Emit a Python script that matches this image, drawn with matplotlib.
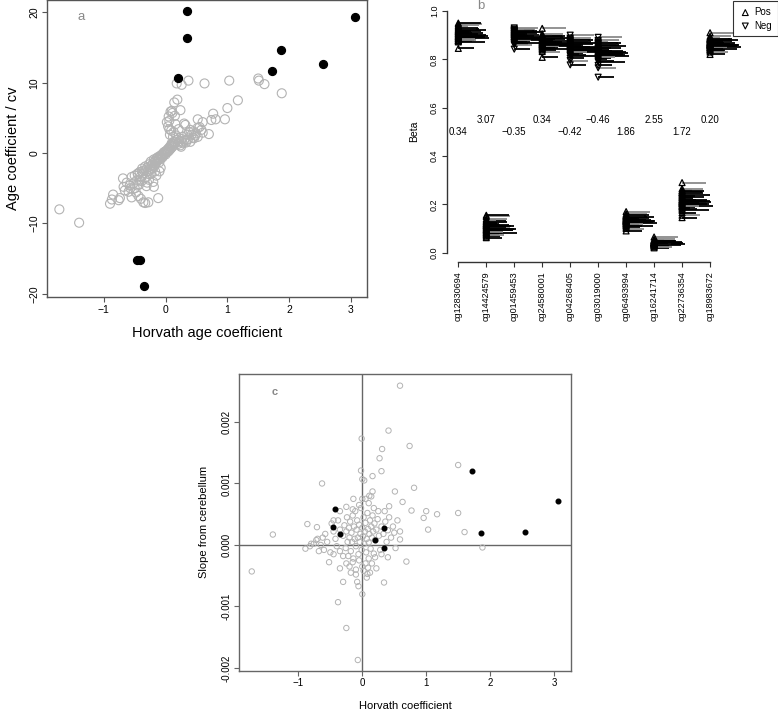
import numpy as np
import matplotlib.pyplot as plt

plt.rcParams['font.family'] = ['Liberation Sans', 'DejaVu Sans']

# ---- panel a / c: the ten selected CpGs (black) ----
sel_horvath = [0.34, 0.34, 3.07, 1.86, 2.55, 1.72, 0.20, -0.46, -0.42, -0.35]
sel_cv = [20.15, 16.4, 19.3, 14.6, 12.6, 11.6, 10.7, -15.2, -15.2, -18.9]
sel_slope_x = [-0.42, -0.46, -0.35, 0.34, 0.20, 0.34, 1.72, 3.07, 1.86, 2.55]
sel_slope_y = [0.00059, 0.00030, 0.00018, 0.00028, 0.00008, -0.00005, 0.00121, 0.00071, 0.00019, 0.00021]

# ---- panel a: other clock CpGs (horvath coef, age coef / cv) ----
grey_a = [
    (-1.72, -8.0), (-1.40, -9.9), (-0.90, -7.2), (-0.87, -6.6), (-0.85, -5.9), (-0.76, -6.7),
    (-0.74, -6.4), (-0.69, -3.6), (-0.68, -4.8), (-0.66, -5.3), (-0.63, -4.2), (-0.60, -5.5),
    (-0.57, -5.0), (-0.55, -6.3), (-0.52, -4.3), (-0.50, -3.2), (-0.48, -5.6), (-0.46, -4.6),
    (-0.45, -2.9), (-0.44, -6.1), (-0.42, -3.8), (-0.40, -6.5), (-0.38, -2.6), (-0.36, -7.0),
    (-0.33, -7.1), (-0.30, -4.2), (-0.28, -7.0), (-0.26, -3.0), (-0.20, -4.1), (-0.19, -4.8),
    (-0.12, -6.4), (-0.10, -2.6), (-0.08, -2.1),
    (-0.45, -3.0), (-0.42, -2.7), (-0.40, -3.3), (-0.38, -2.2), (-0.36, -2.9), (-0.35, -2.5),
    (-0.33, -1.9), (-0.32, -3.4), (-0.30, -2.1), (-0.29, -2.6), (-0.27, -1.6), (-0.26, -2.3),
    (-0.25, -1.9), (-0.24, -1.2), (-0.22, -1.7), (-0.21, -2.2), (-0.20, -1.4), (-0.19, -0.9),
    (-0.18, -1.8), (-0.17, -1.1), (-0.16, -1.5), (-0.15, -0.8), (-0.14, -1.2), (-0.13, -0.6),
    (-0.12, -1.0), (-0.11, -0.7), (-0.10, -1.3), (-0.09, -0.4), (-0.08, -0.8), (-0.07, -0.5),
    (-0.06, -0.2), (-0.05, -0.6), (-0.04, -0.3), (-0.03, 0.1), (-0.02, -0.1), (-0.01, 0.2),
    (0.00, -0.2), (0.01, 0.3), (0.02, 0.1), (0.03, 0.5), (0.04, 0.2), (0.05, 0.7), (0.06, 0.4),
    (0.07, 0.9), (0.08, 0.6), (0.09, 1.1), (0.10, 0.8), (0.11, 1.3), (0.12, 1.0), (0.13, 1.6),
    (0.14, 1.2), (0.16, 1.5), (0.18, 1.9), (0.20, 1.3), (0.22, 1.7), (0.24, 1.1), (0.26, 2.0),
    (0.28, 1.4), (0.30, 1.8), (0.33, 1.5), (0.36, 1.9), (0.40, 1.6), (0.44, 2.2), (0.48, 2.5),
    (0.52, 2.3),
    (-0.55, -3.4), (-0.58, -4.6), (-0.50, -5.0), (-0.47, -3.9), (-0.43, -4.5), (-0.39, -4.0),
    (-0.34, -3.6), (-0.31, -4.7), (-0.27, -3.8), (-0.23, -2.9), (-0.17, -2.6), (-0.15, -3.2),
    (0.18, 9.9), (0.26, 9.7), (0.37, 10.3), (0.63, 9.9), (1.03, 10.3), (1.50, 10.6), (1.51, 10.3),
    (1.60, 9.8), (1.88, 8.5), (1.17, 7.5), (1.00, 6.4), (0.77, 5.6), (0.81, 4.8), (0.74, 4.7),
    (0.96, 4.8), (0.70, 2.7), (0.60, 4.4), (0.52, 4.8), (0.60, 2.9), (0.55, 3.7), (0.19, 7.6),
    (0.14, 7.2), (0.24, 6.1), (0.08, 5.9), (0.11, 5.7), (0.15, 5.3), (0.06, 4.6), (0.06, 3.4),
    (0.09, 3.2), (0.30, 4.2), (0.32, 4.0), (0.38, 3.0), (0.42, 2.6), (0.34, 1.9), (0.46, 2.1),
    (0.49, 2.8), (0.26, 1.6), (0.25, 0.9), (0.12, 2.3), (0.10, 1.4), (0.04, 3.8), (0.07, 2.6),
    (0.13, 3.0), (0.17, 2.5), (0.21, 3.4), (0.35, 2.6), (0.40, 3.3), (0.45, 3.1), (0.52, 3.6),
    (0.58, 3.3), (0.28, 2.3), (0.16, 4.1), (0.05, 5.2), (0.02, 4.4), (0.10, 6.0),
]

# ---- panel c: other clock CpGs (horvath coef, slope x 1e-3) ----
grey_c = [
    (0.59, 2.59), (0.41, 1.86), (-0.01, 1.73), (0.74, 1.61), (0.31, 1.56), (0.27, 1.41),
    (0.30, 1.20), (-0.02, 1.21), (0.16, 1.12), (0.00, 1.07), (0.03, 1.05), (-0.63, 1.00),
    (0.81, 0.93), (0.51, 0.87), (0.16, 0.87), (0.11, 0.80), (0.14, 0.79), (0.77, 0.56),
    (0.63, 0.70), (0.42, 0.63), (-1.73, -0.43), (-1.40, 0.17), (-0.86, 0.34), (-0.89, -0.06),
    (0.69, -0.27), (-0.30, -0.60), (-0.38, -0.93), (-0.25, -1.35), (-0.07, -1.87), (0.34, -0.61),
    (0.00, -0.80), (-0.08, -0.60), (-0.06, -0.67), (0.07, -0.53), (0.08, -0.47), (0.09, -0.37),
    (-0.35, -0.38), (-0.52, -0.28), (-0.71, 0.29), (-0.70, 0.10), (-0.76, 0.02), (-0.14, 0.75),
    (0.00, 0.75), (1.50, 1.30), (1.00, 0.55), (0.96, 0.44), (1.17, 0.50), (1.50, 0.52),
    (1.03, 0.25), (1.60, 0.21), (1.88, -0.04), (0.59, 0.22), (0.59, 0.09),
    (-0.30, 0.15), (-0.28, 0.32), (-0.26, -0.05), (-0.25, 0.22), (-0.24, 0.45), (-0.23, 0.05),
    (-0.22, -0.18), (-0.21, 0.28), (-0.20, 0.12), (-0.19, 0.38), (-0.18, -0.10), (-0.17, 0.20),
    (-0.16, 0.05), (-0.15, 0.48), (-0.14, -0.22), (-0.13, 0.30), (-0.12, 0.10), (-0.11, 0.55),
    (-0.10, -0.02), (-0.09, 0.25), (-0.08, 0.40), (-0.07, 0.12), (-0.06, -0.15), (-0.05, 0.33),
    (-0.04, 0.05), (-0.03, 0.18), (-0.02, 0.60), (-0.01, -0.08), (0.00, 0.28), (0.01, 0.14),
    (0.02, 0.45), (0.03, 0.02), (0.04, 0.22), (0.05, 0.36), (0.06, -0.12), (0.07, 0.10),
    (0.08, 0.52), (0.09, 0.26), (0.10, 0.04), (0.11, 0.18), (0.12, 0.40), (0.13, -0.06),
    (0.14, 0.30), (0.15, 0.12), (0.16, 0.48), (0.17, 0.22), (0.18, -0.14), (0.19, 0.35),
    (0.20, 0.08), (0.22, 0.25), (0.24, 0.42), (0.26, 0.15), (0.28, -0.08), (0.30, 0.30),
    (-0.35, 0.25), (-0.38, 0.40), (-0.40, -0.02), (-0.42, 0.10), (-0.45, 0.22), (-0.48, 0.35),
    (-0.50, -0.12), (-0.55, 0.05), (-0.58, 0.18), (-0.60, -0.08), (-0.62, 0.12), (-0.65, 0.00),
    (-0.68, -0.10), (-0.72, 0.08), (-0.80, 0.02), (-0.82, -0.02),
    (0.33, 0.18), (0.36, 0.38), (0.38, 0.05), (0.40, 0.24), (0.42, 0.45), (0.45, 0.12),
    (0.48, 0.30), (0.50, 0.20), (0.52, -0.05), (0.55, 0.40), (0.40, -0.20), (0.30, -0.15),
    (-0.30, -0.18), (-0.25, -0.30), (-0.20, -0.35), (-0.15, -0.28), (-0.10, -0.40), (-0.05, -0.25),
    (0.00, -0.35), (0.05, -0.30), (0.10, -0.22), (0.15, -0.30), (0.20, -0.20), (-0.35, -0.10),
    (-0.45, -0.15), (-0.10, -0.48), (0.02, -0.42), (-0.18, -0.45), (0.22, -0.38), (0.12, -0.45),
    (-0.25, 0.62), (-0.05, 0.65), (0.05, 0.75), (0.10, 0.68), (-0.15, 0.58), (0.18, 0.60),
    (0.25, 0.55), (-0.35, 0.55), (-0.45, 0.40), (0.35, 0.55),
]

# ---- panel b: beta values of the ten CpGs per sample ----
cpg_names = ['cg12830694', 'cg14424579', 'cg01459453', 'cg24580001', 'cg04268405',
             'cg03019000', 'cg06493994', 'cg16241714', 'cg22736354', 'cg18983672']
cpg_coef = [0.34, 3.07, -0.35, 0.34, -0.42, -0.46, 1.86, 2.55, 1.72, 0.20]
sample_len = [0.55, 0.95, 0.40, 1.10, 0.70, 0.85, 0.30, 1.00, 0.60, 0.75, 0.45, 0.90, 0.65, 1.05, 0.50,
              0.80, 0.35, 0.95, 0.70, 0.55, 0.85, 0.40, 1.00, 0.60, 0.75, 0.50, 0.90, 0.65, 0.45, 0.80]
sample_grey = [0, 0, 1, 0, 0, 1, 0, 0, 0, 1, 0, 0, 1, 0, 0, 0, 1, 0, 0, 0, 1, 0, 0, 1, 0, 0, 0, 1, 0, 0]
beta = [
    [0.845, 0.872, 0.915, 0.888, 0.931, 0.902, 0.878, 0.921, 0.894, 0.940, 0.884, 0.909, 0.926, 0.897, 0.875,
     0.918, 0.936, 0.891, 0.905, 0.880, 0.946, 0.912, 0.899, 0.886, 0.924, 0.907, 0.893, 0.878, 0.916, 0.950],
    [0.062, 0.095, 0.118, 0.083, 0.131, 0.104, 0.072, 0.112, 0.089, 0.140, 0.078, 0.109, 0.125, 0.098, 0.068,
     0.115, 0.135, 0.092, 0.106, 0.081, 0.150, 0.121, 0.100, 0.086, 0.128, 0.113, 0.094, 0.075, 0.119, 0.155],
    [0.842, 0.868, 0.905, 0.880, 0.920, 0.893, 0.872, 0.912, 0.886, 0.925, 0.876, 0.899, 0.916, 0.889, 0.864,
     0.908, 0.922, 0.883, 0.896, 0.870, 0.930, 0.902, 0.891, 0.878, 0.914, 0.897, 0.885, 0.860, 0.906, 0.918],
    [0.808, 0.842, 0.880, 0.856, 0.897, 0.868, 0.848, 0.889, 0.862, 0.905, 0.852, 0.875, 0.893, 0.865, 0.838,
     0.884, 0.900, 0.859, 0.872, 0.845, 0.928, 0.878, 0.867, 0.854, 0.891, 0.871, 0.861, 0.832, 0.882, 0.895],
    [0.777, 0.815, 0.858, 0.832, 0.878, 0.846, 0.822, 0.868, 0.840, 0.888, 0.826, 0.852, 0.874, 0.843, 0.805,
     0.862, 0.884, 0.836, 0.850, 0.818, 0.900, 0.856, 0.845, 0.829, 0.871, 0.849, 0.838, 0.795, 0.860, 0.880],
    [0.726, 0.790, 0.842, 0.812, 0.866, 0.828, 0.800, 0.855, 0.822, 0.878, 0.806, 0.835, 0.862, 0.825, 0.775,
     0.848, 0.872, 0.818, 0.832, 0.795, 0.891, 0.840, 0.830, 0.808, 0.858, 0.836, 0.820, 0.765, 0.845, 0.868],
    [0.090, 0.112, 0.140, 0.122, 0.152, 0.132, 0.116, 0.146, 0.128, 0.160, 0.118, 0.136, 0.150, 0.130, 0.105,
     0.143, 0.156, 0.125, 0.134, 0.110, 0.170, 0.138, 0.131, 0.120, 0.148, 0.135, 0.127, 0.100, 0.142, 0.154],
    [0.020, 0.030, 0.042, 0.035, 0.050, 0.040, 0.032, 0.046, 0.038, 0.055, 0.033, 0.041, 0.048, 0.039, 0.027,
     0.044, 0.052, 0.036, 0.040, 0.029, 0.065, 0.043, 0.039, 0.034, 0.047, 0.041, 0.037, 0.024, 0.043, 0.050],
    [0.145, 0.175, 0.225, 0.195, 0.250, 0.210, 0.185, 0.240, 0.205, 0.265, 0.190, 0.218, 0.245, 0.208, 0.165,
     0.232, 0.258, 0.200, 0.215, 0.180, 0.290, 0.228, 0.212, 0.192, 0.248, 0.220, 0.203, 0.155, 0.236, 0.255],
    [0.820, 0.842, 0.870, 0.852, 0.885, 0.862, 0.846, 0.878, 0.858, 0.895, 0.848, 0.866, 0.882, 0.860, 0.836,
     0.874, 0.890, 0.856, 0.864, 0.840, 0.910, 0.868, 0.861, 0.850, 0.880, 0.867, 0.857, 0.830, 0.872, 0.886],
]

GREY = '#b3b3b3'
BOX = '#555555'


def r_style(ax, color=BOX, size=6):
    for s in ax.spines.values():
        s.set_color(color)
        s.set_linewidth(1.0)
    ax.tick_params(direction='out', length=3.5, width=0.8, color=color, labelsize=size, pad=2)
    for lab in ax.get_yticklabels():
        lab.set_rotation(90)
        lab.set_va('center')


fig = plt.figure(figsize=(7.78, 7.15), dpi=100)

# ---------------- panel a ----------------
ga = np.array(grey_a)
axa = fig.add_axes([47 / 778, 1 - 297 / 715, 320 / 778, 297 / 715])
axa.scatter(ga[:, 0], ga[:, 1], s=42, facecolors='none', edgecolors=GREY, linewidths=0.8)
axa.scatter(sel_horvath, sel_cv, s=32, color='black')
axa.set_xlim(-1.92, 3.26)
axa.set_ylim(-20.46, 21.76)
axa.set_xticks([-1, 0, 1, 2, 3])
axa.set_xticklabels(['\u22121', '0', '1', '2', '3'])
axa.set_yticks([-20, -10, 0, 10, 20])
axa.set_yticklabels(['\u221220', '\u221210', '0', '10', '20'])
r_style(axa, size=7.5)
axa.set_xlabel('Horvath age coefficient', fontsize=10.5, labelpad=8)
axa.set_ylabel('Age coefficient / cv', fontsize=10.5, labelpad=7)
axa.text(0.108, 0.943, 'a', transform=axa.transAxes, color='#888888', fontsize=9.5,
         ha='center', va='center')

# ---------------- panel b ----------------
axb = fig.add_axes([446.7 / 778, 1 - 262 / 715, 331.3 / 778, 260.7 / 715])
for i in range(len(cpg_names)):
    xpos = i + 1
    mk = '^' if cpg_coef[i] > 0 else 'v'
    for j in range(len(sample_len)):
        col = '#8a8a8a' if sample_grey[j] else 'black'
        axb.hlines(beta[i][j], xpos, xpos + sample_len[j], color=col, lw=1.3)
    axb.scatter([xpos] * len(beta[i]), beta[i], marker=mk, s=18, facecolors='none',
                edgecolors='black', linewidths=0.9, zorder=3)
    ylab = 0.50 if i % 2 == 0 else 0.55
    axb.text(xpos, ylab, f'{cpg_coef[i]:.2f}'.replace('-', '\u2212'), fontsize=7,
             ha='center', va='center')
axb.set_xlim(0.585, 12.43)
axb.set_ylim(-0.0385, 1.04)
axb.set_xticks(range(1, 11))
axb.set_xticklabels(cpg_names, rotation=90, fontsize=6.5)
axb.set_yticks([0.0, 0.2, 0.4, 0.6, 0.8, 1.0])
axb.set_yticklabels(['0.0', '0.2', '0.4', '0.6', '0.8', '1.0'])
r_style(axb, color='#333333', size=6.5)
axb.tick_params(axis='x', pad=3)
axb.spines['top'].set_visible(False)
axb.spines['right'].set_visible(False)
axb.spines['left'].set_bounds(0, 1)
axb.spines['bottom'].set_bounds(1, 10)
axb.set_ylabel('Beta', fontsize=7.5, labelpad=8)
axb.text(0.103, 0.982, 'b', transform=axb.transAxes, color='#888888', fontsize=9.5,
         ha='center', va='center')
h1 = axb.scatter([], [], marker='^', s=18, facecolors='none', edgecolors='black', linewidths=0.8)
h2 = axb.scatter([], [], marker='v', s=18, facecolors='none', edgecolors='black', linewidths=0.8)
leg = axb.legend([h1, h2], ['Pos', 'Neg'], loc='upper right', fontsize=7, frameon=True,
                 fancybox=False, borderaxespad=0, handletextpad=0.3, borderpad=0.6,
                 handlelength=1.3, labelspacing=0.35)
leg.get_frame().set_edgecolor('black')
leg.get_frame().set_linewidth(0.8)

# ---------------- panel c ----------------
gc = np.array(grey_c)
axc = fig.add_axes([239.3 / 778, 1 - 670.7 / 715, 331.7 / 778, 296.7 / 715])
axc.axvline(0, color='#666666', lw=1.0, zorder=1)
axc.axhline(0, color='#666666', lw=1.0, zorder=1)
axc.scatter(gc[:, 0], gc[:, 1] * 1e-3, s=15, facecolors='none', edgecolors=GREY, linewidths=0.7,
            zorder=2)
axc.scatter(sel_slope_x, sel_slope_y, s=11, color='black', zorder=3)
axc.set_xlim(-1.925, 3.266)
axc.set_ylim(-0.002044, 0.00278)
axc.set_xticks([-1, 0, 1, 2, 3])
axc.set_xticklabels(['\u22121', '0', '1', '2', '3'])
axc.set_yticks([-0.002, -0.001, 0.0, 0.001, 0.002])
axc.set_yticklabels(['-0.002', '-0.001', '0.000', '0.001', '0.002'])
r_style(axc, color='#666666', size=7)
axc.set_xlabel('Horvath coefficient', fontsize=8, labelpad=9)
axc.set_ylabel('Slope from cerebellum', fontsize=8, labelpad=9)
axc.text(0.108, 0.938, 'c', transform=axc.transAxes, color='#888888', fontsize=8,
         fontweight='bold', ha='center', va='center')

fig.savefig('out.png', dpi=100)
